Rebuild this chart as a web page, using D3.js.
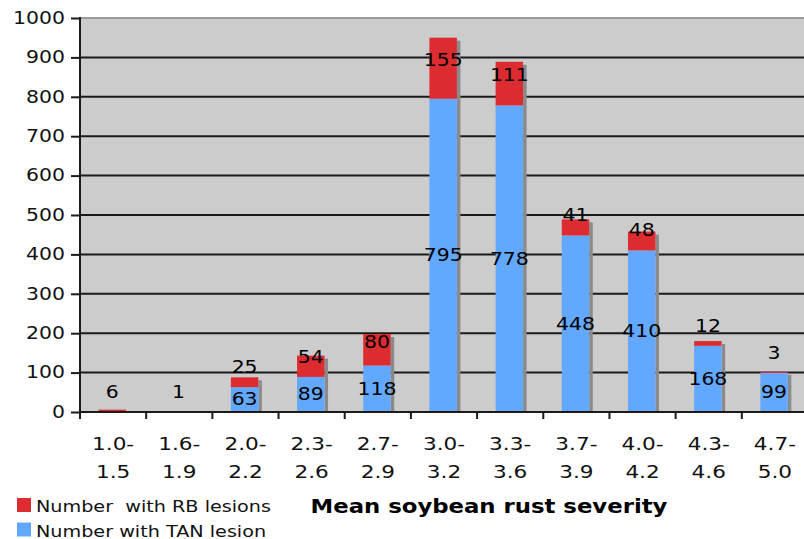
<!DOCTYPE html>
<html><head><meta charset="utf-8">
<script src="https://cdn.jsdelivr.net/npm/d3@7"></script>
<style>
html,body{margin:0;padding:0;background:#fff;}
svg{display:block;font-family:"DejaVu Sans",Verdana,sans-serif;}
svg text{white-space:pre;}
</style></head>
<body>
<svg id="chart" width="804" height="539"></svg>
<script>
// ---- data ----
const categories = [["1.0-","1.5"],["1.6-","1.9"],["2.0-","2.2"],["2.3-","2.6"],["2.7-","2.9"],["3.0-","3.2"],["3.3-","3.6"],["3.7-","3.9"],["4.0-","4.2"],["4.3-","4.6"],["4.7-","5.0"]];
const tanValues = [0, 0, 63, 89, 118, 795, 778, 448, 410, 168, 99];
const rbValues  = [6, 1, 25, 54, 80, 155, 111, 41, 48, 12, 3];
const yTicks = [0,100,200,300,400,500,600,700,800,900,1000];
const seriesNames = ["Number  with RB lesions", "Number with TAN lesion"];
const xTitle = "Mean soybean rust severity";

// ---- layout ----
const SX = 1.2; // horizontal text stretch
const pLeft = 80, pRight = 808, pTop = 18, pBottom = 412;
const svg = d3.select("#chart");
const keys = categories.map(c => c.join(""));
const x = d3.scaleBand().domain(keys).range([pLeft, pRight]).padding(0);
const y = d3.scaleLinear().domain([0, 1000]).range([pBottom, pTop]);
const RED = "#dd2c30", BLUE = "#63a8ff";

function stext(g, px, py, str, opts) {
  const o = Object.assign({size: 17, anchor: "middle", weight: "normal", fill: "#111", base: "auto"}, opts || {});
  const gg = g.append("g").attr("transform", `translate(${px},${py}) scale(${SX},1)`);
  gg.append("text").attr("text-anchor", o.anchor).attr("font-size", o.size)
    .attr("font-weight", o.weight).attr("fill", o.fill)
    .attr("dominant-baseline", o.base).attr("xml:space", "preserve").text(str);
  return gg;
}

// plot background
svg.append("rect").attr("x", pLeft).attr("y", pTop).attr("width", pRight - pLeft).attr("height", pBottom - pTop).attr("fill", "#cccccc");
svg.append("line").attr("x1", pLeft).attr("x2", pRight).attr("y1", pTop).attr("y2", pTop).attr("stroke", "#9a9a9a").attr("stroke-width", 2);

// gridlines
svg.append("g").selectAll("line").data(yTicks.filter(t => t > 0 && t < 1000)).join("line")
  .attr("x1", pLeft).attr("x2", pRight).attr("y1", d => y(d)).attr("y2", d => y(d))
  .attr("stroke", "#1a1a1a").attr("stroke-width", 2);

// y axis
const yAxis = d3.axisLeft(y).tickValues(yTicks).tickSize(9).tickFormat("");
const yg = svg.append("g").attr("transform", `translate(${pLeft},0)`).call(yAxis);
yg.select(".domain").remove();
yg.selectAll(".tick line").attr("stroke", "#1a1a1a").attr("stroke-width", 2);
yTicks.forEach(t => stext(svg, 65, y(t), String(t), {anchor: "end", base: "central", size: 17, fill: "#111"}));
svg.append("line").attr("x1", pLeft).attr("x2", pLeft).attr("y1", pTop - 1).attr("y2", pBottom + 6).attr("stroke", "#1a1a1a").attr("stroke-width", 2);

// bars
const barOff = 18.5, barW = 27.5;
const bars = svg.append("g");
categories.forEach((c, i) => {
  const bx = x(keys[i]) + barOff;
  const total = tanValues[i] + rbValues[i];
  if (total > 0) {
    bars.append("rect").attr("x", bx + barW).attr("y", y(total) + 3).attr("width", 3.5)
      .attr("height", Math.max(0, pBottom - y(total) - 3)).attr("fill", "#8a8a8a");
  }
  bars.append("rect").attr("x", bx).attr("y", y(tanValues[i])).attr("width", barW)
    .attr("height", pBottom - y(tanValues[i])).attr("fill", BLUE);
  bars.append("rect").attr("x", bx).attr("y", y(total)).attr("width", barW)
    .attr("height", y(tanValues[i]) - y(total)).attr("fill", RED);
});

// x axis
svg.append("line").attr("x1", pLeft).attr("x2", pRight).attr("y1", pBottom).attr("y2", pBottom).attr("stroke", "#1a1a1a").attr("stroke-width", 2);
const xg = svg.append("g");
d3.range(categories.length + 1).forEach(i => {
  const xx = pLeft + i * x.bandwidth();
  xg.append("line").attr("x1", xx).attr("x2", xx).attr("y1", pBottom).attr("y2", pBottom + 7)
    .attr("stroke", "#1a1a1a").attr("stroke-width", 2);
});
categories.forEach((c, i) => {
  const cx = x(keys[i]) + x.bandwidth() / 2;
  stext(svg, cx, 450, c[0], {size: 18, fill: "#111"});
  stext(svg, cx, 478, c[1], {size: 18, fill: "#111"});
});

// data labels
categories.forEach((c, i) => {
  const cx = x(keys[i]) + barOff + barW / 2;
  const t = tanValues[i], r = rbValues[i];
  if (t > 0) stext(svg, cx, y(t / 2), String(t), {base: "central", size: 17, fill: "#000"});
  if (r > 0) {
    const yb = y(t), yc = y(t + r / 2);
    stext(svg, cx, Math.min(yb - 20, yc - 8), String(r), {base: "central", size: 17, fill: "#000"});
  }
});

// legend
const legendColors = [RED, BLUE];
seriesNames.forEach((s, i) => {
  const ly = 498 + i * 24.5;
  svg.append("rect").attr("x", 17).attr("y", ly).attr("width", 14).attr("height", 14).attr("fill", legendColors[i]);
  stext(svg, 36, ly + 14, s, {anchor: "start", size: 16, fill: "#111"});
});

// axis title
stext(svg, 489, 513, xTitle, {size: 19, weight: "bold", fill: "#000"});
</script>
</body></html>
